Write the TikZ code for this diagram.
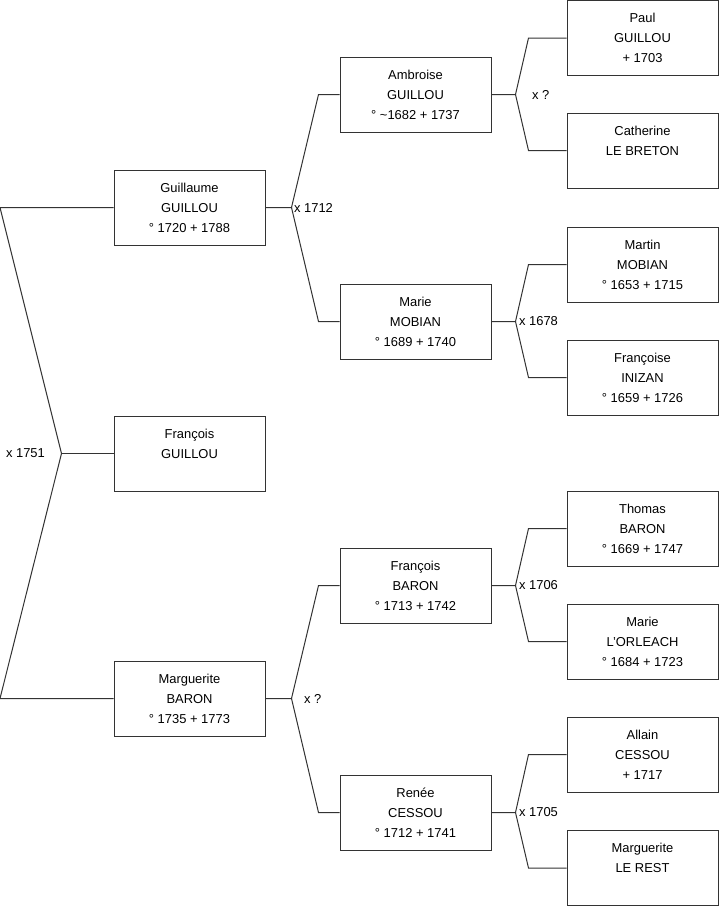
\documentclass[tikz,border=0pt]{standalone}
\usepackage{fontspec}
\setmainfont{Liberation Sans}
\usetikzlibrary{calc}
\definecolor{linegray}{HTML}{333333}
\tikzset{
  person/.style={draw=linegray,line width=0.75pt,fill=white,minimum width=113.25pt,minimum height=56.25pt,inner sep=0pt,align=center,font=\fontsize{9.7}{15}\selectfont,text=black},
  link/.style={draw=linegray,line width=0.75pt},
  union/.style={font=\fontsize{9.7}{11}\selectfont,text=black,inner sep=1pt}
}
\begin{document}
\begin{tikzpicture}[x=0.75pt,y=-0.75pt]
\path[use as bounding box,fill=white] (0,0) rectangle (719,908);
% generation 1 and 2
\node[person] (francois) at (189.5,453.5) {François\\GUILLOU\\\mbox{}};
\node[person] (guillaume) at (189.5,207.5) {Guillaume\\GUILLOU\\° 1720 + 1788};
\node[person] (marguerite) at (189.5,698.5) {Marguerite\\BARON\\° 1735 + 1773};
% generation 3
\node[person] (ambroise) at (415.5,94.5) {Ambroise\\GUILLOU\\° \textasciitilde1682 + 1737};
\node[person] (marie) at (415.5,321.5) {Marie\\MOBIAN\\° 1689 + 1740};
\node[person] (fbaron) at (415.5,585.5) {François\\BARON\\° 1713 + 1742};
\node[person] (renee) at (415.5,812.5) {Renée\\CESSOU\\° 1712 + 1741};
% generation 4
\node[person] (paul) at (642.5,38) {Paul\\GUILLOU\\+ 1703};
\node[person] (catherine) at (642.5,150.5) {Catherine\\LE BRETON\\\mbox{}};
\node[person] (martin) at (642.5,264.5) {Martin\\MOBIAN\\° 1653 + 1715};
\node[person] (francoise) at (642.5,377.5) {Françoise\\INIZAN\\° 1659 + 1726};
\node[person] (thomas) at (642.5,528.5) {Thomas\\BARON\\° 1669 + 1747};
\node[person] (mlorleach) at (642.5,641.5) {Marie\\L'ORLEACH\\° 1684 + 1723};
\node[person] (allain) at (642.5,754.5) {Allain\\CESSOU\\+ 1717};
\node[person] (mlerest) at (642.5,868) {Marguerite\\LE REST\\\mbox{}};
% root fork
\coordinate (root) at ($(francois.west)+(-52,0)$);
\draw[link] (guillaume.west) -- ++(-113.5,0) -- (root) -- ($(marguerite.west)+(-113.5,0)$) -- (marguerite.west);
\draw[link] (root) -- (francois.west);
\node[union,anchor=east] (u-root) at ($(root)+(-15,0)$) {x 1751};
% second generation forks
\foreach \c/\h/\w/\lbl/\dx in {guillaume/ambroise/marie/{x 1712}/1,marguerite/fbaron/renee/{x ?}/11}{
  \coordinate (v-\c) at ($(\c.east)+(26,0)$);
  \draw[link] (\c.east) -- (v-\c) -- ($(\h.west)+(-21,0)$) -- (\h.west);
  \draw[link] (v-\c) -- ($(\w.west)+(-21,0)$) -- (\w.west);
  \node[union,anchor=west] (u-\c) at ($(v-\c)+(\dx,0)$) {\lbl};
}
% third generation forks
\foreach \c/\h/\w/\lbl/\dx in {ambroise/paul/catherine/{x ?}/15,marie/martin/francoise/{x 1678}/2,fbaron/thomas/mlorleach/{x 1706}/2,renee/allain/mlerest/{x 1705}/2}{
  \coordinate (v-\c) at ($(\c.east)+(24,0)$);
  \draw[link] (\c.east) -- (v-\c) -- ($(\h.west)+(-38,0)$) -- (\h.west);
  \draw[link] (v-\c) -- ($(\w.west)+(-38,0)$) -- (\w.west);
  \node[union,anchor=west] (u-\c) at ($(v-\c)+(\dx,0)$) {\lbl};
}
\end{tikzpicture}
\end{document}
